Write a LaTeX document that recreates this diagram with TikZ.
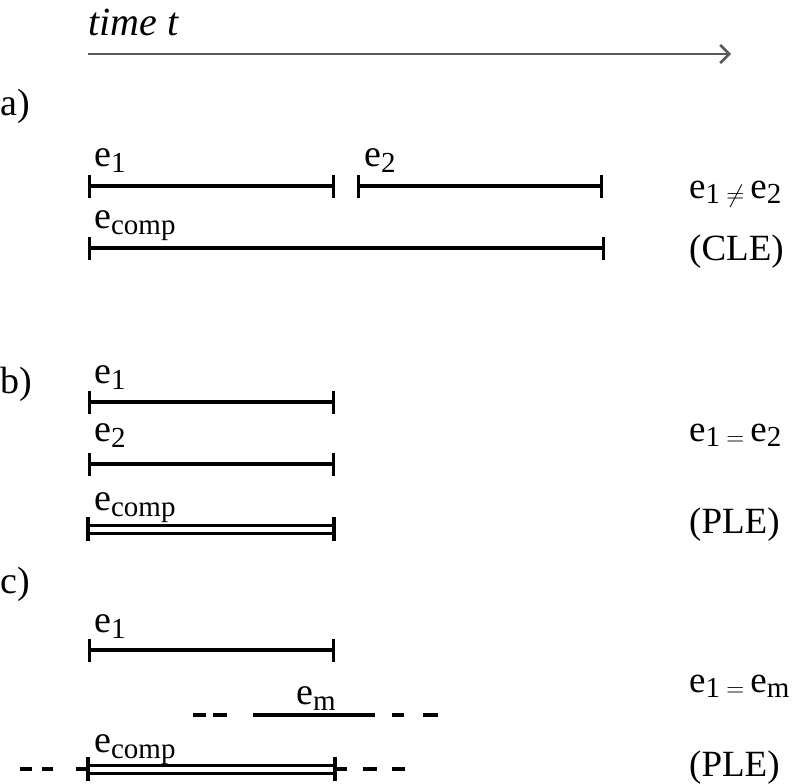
\documentclass[tikz,border=0pt]{standalone}
\usepackage{fontspec}
\setmainfont{Liberation Serif}
\usetikzlibrary{arrows.meta}
\newcommand\lsub[1]{\raisebox{-0.35ex}{\fontsize{29}{29}\selectfont #1}}
\newcommand\lrel[1]{\,\raisebox{-0.25ex}{\fontsize{26}{26}\selectfont$#1$}\,}
\newcommand\lbig{\fontsize{38}{40}\selectfont}
\begin{document}
\begin{tikzpicture}[x=1pt,y=-1pt,
  lbl/.style={anchor=base west,inner sep=0pt,font=\lbig},
  rlbl/.style={anchor=base west,inner sep=0pt,font=\fontsize{37}{39}\selectfont},
  seg/.style={line width=3.2pt,{Bar[width=23pt,line width=3.2pt]}-{Bar[width=23pt,line width=3.2pt]}},
  plain/.style={line width=3.2pt},
  dbl/.style={line width=3pt,double,double distance=5pt},
  tick/.style={line width=3.2pt},
  axis/.style={line width=2.8pt,draw=black!65,-{Straight Barb[length=9pt,width=18pt,line width=2.6pt]}}]
\useasboundingbox (0,0) rectangle (795,784);
% time axis
\node[lbl,font=\fontsize{40}{42}\selectfont\itshape] (tt) at (88,36) {time t};
\coordinate (ax0) at (88,54);
\coordinate (ax1) at (731,54);
\draw[axis] (ax0) -- (ax1);
% a)
\node[lbl] (la) at (0,115) {a)};
\node[lbl] (a1) at (94,166) {e\lsub{1}};
\coordinate (a1s) at (88,186); \coordinate (a1e) at (335,186);
\draw[seg] (a1s) -- (a1e);
\node[lbl] (a2) at (364,166) {e\lsub{2}};
\coordinate (a2s) at (357,186); \coordinate (a2e) at (603,186);
\draw[seg] (a2s) -- (a2e);
\node[lbl] (ac) at (94,228) {e\lsub{comp}};
\coordinate (acs) at (88,248); \coordinate (ace) at (605,248);
\draw[seg] (acs) -- (ace);
\node[rlbl] (ra1) at (689,198) {e\lsub{1}\lrel{\neq}e\lsub{2}};
\node[rlbl] (ra2) at (689,260) {(CLE)};
% b)
\node[lbl] (lb) at (0,393) {b)};
\node[lbl] (b1) at (94,383) {e\lsub{1}};
\coordinate (b1s) at (88,402); \coordinate (b1e) at (335,402);
\draw[seg] (b1s) -- (b1e);
\node[lbl] (b2) at (94,441) {e\lsub{2}};
\coordinate (b2s) at (88,464); \coordinate (b2e) at (335,464);
\draw[seg] (b2s) -- (b2e);
\node[lbl] (bc) at (94,510) {e\lsub{comp}};
\coordinate (bcs) at (88,529); \coordinate (bce) at (334,529);
\draw[dbl] (bcs) -- (bce);
\draw[tick] ([yshift=-12pt]bcs) -- ([yshift=12pt]bcs);
\draw[tick] ([yshift=-12pt]bce) -- ([yshift=12pt]bce);
\node[rlbl] (rb1) at (689,441) {e\lsub{1}\lrel{=}e\lsub{2}};
\node[rlbl] (rb2) at (689,533) {(PLE)};
% c)
\node[lbl] (lc) at (0,593) {c)};
\node[lbl] (c1) at (94,632) {e\lsub{1}};
\coordinate (c1s) at (88,650); \coordinate (c1e) at (335,650);
\draw[seg] (c1s) -- (c1e);
\node[lbl] (cm) at (296,704) {e\lsub{m}};
\coordinate (cms) at (253,715); \coordinate (cme) at (375,715);
\draw[plain] (cms) -- (cme);
\draw[plain] (193,715) -- (206,715);
\draw[plain] (213,715) -- (227,715);
\draw[plain] (392,715) -- (404,715);
\draw[plain] (423,715) -- (438,715);
\node[lbl] (cc) at (94,752) {e\lsub{comp}};
\coordinate (ccs) at (88,769); \coordinate (cce) at (335,769);
\draw[dbl] (ccs) -- (cce);
\draw[tick] ([yshift=-12pt]ccs) -- ([yshift=12pt]ccs);
\draw[tick] ([yshift=-12pt]cce) -- ([yshift=12pt]cce);
\draw[plain] (20,769) -- (32,769);
\draw[plain] (42,769) -- (53,769);
\draw[plain] (76,769) -- (ccs);
\draw[plain] (cce) -- (347,769);
\draw[plain] (363,769) -- (377,769);
\draw[plain] (392,769) -- (405,769);
\node[rlbl] (rc1) at (689,692) {e\lsub{1}\lrel{=}e\lsub{m}};
\node[rlbl] (rc2) at (689,776) {(PLE)};
\end{tikzpicture}
\end{document}
